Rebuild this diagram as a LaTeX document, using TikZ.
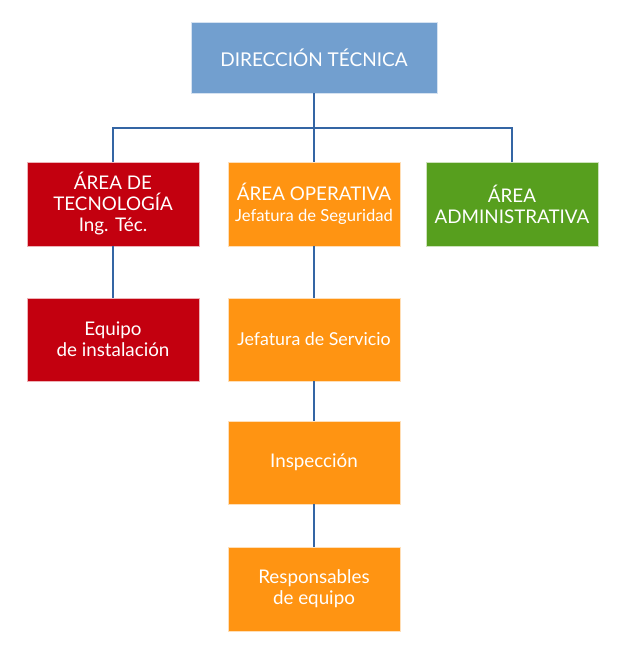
\documentclass[tikz,border=0pt]{standalone}
\usepackage{fontspec}
\setmainfont{Lato}
\definecolor{cblue}{HTML}{729FCF}
\definecolor{cred}{HTML}{C3000F}
\definecolor{corange}{HTML}{FF9412}
\definecolor{cgreen}{HTML}{579F1E}
\definecolor{cline}{HTML}{3465A4}
\begin{document}
\begin{tikzpicture}[x=1pt,y=-1pt,
  box/.style={draw=white!70!#1, line width=0.6pt, fill=#1, text=white, align=center, minimum width=172pt, minimum height=84pt, inner sep=0pt, font=\fontsize{18.8}{21}\selectfont},
  conn/.style={draw=cline, line width=1.2pt}]
\useasboundingbox (0,0) rectangle (624,655);
\node[box=cblue, minimum width=246pt, minimum height=71pt, font=\fontsize{19}{21}\selectfont] (dir) at (314,57.5) {DIRECCIÓN TÉCNICA};
\node[box=cred] (tec) at (113,204) {ÁREA DE\\TECNOLOGÍA\\Ing. Téc.};
\node[box=corange] (ope) at (314,204) {ÁREA OPERATIVA\\[0pt]{\fontsize{16.6}{19}\selectfont Jefatura de Seguridad}};
\node[box=cgreen] (adm) at (512,204) {ÁREA\\ADMINISTRATIVA};
\node[box=cred, minimum height=83pt] (equ) at (113,339.5) {Equipo\\de instalación};
\node[box=corange, minimum height=83pt, font=\fontsize{17.8}{20}\selectfont] (ser) at (314,339.5) {Jefatura de Servicio};
\node[box=corange, minimum height=83pt] (ins) at (314,462.5) {Inspección};
\node[box=corange] (res) at (314,589) {Responsables\\de equipo};
\coordinate (bus) at (314,128);
\draw[conn] (dir.south) -- (bus);
\draw[conn] (tec.north) |- (bus) -| (adm.north);
\draw[conn] (bus) -- (ope.north);
\draw[conn] (tec.south) -- (equ.north);
\draw[conn] (ope.south) -- (ser.north);
\draw[conn] (ser.south) -- (ins.north);
\draw[conn] (ins.south) -- (res.north);
\end{tikzpicture}
\end{document}
